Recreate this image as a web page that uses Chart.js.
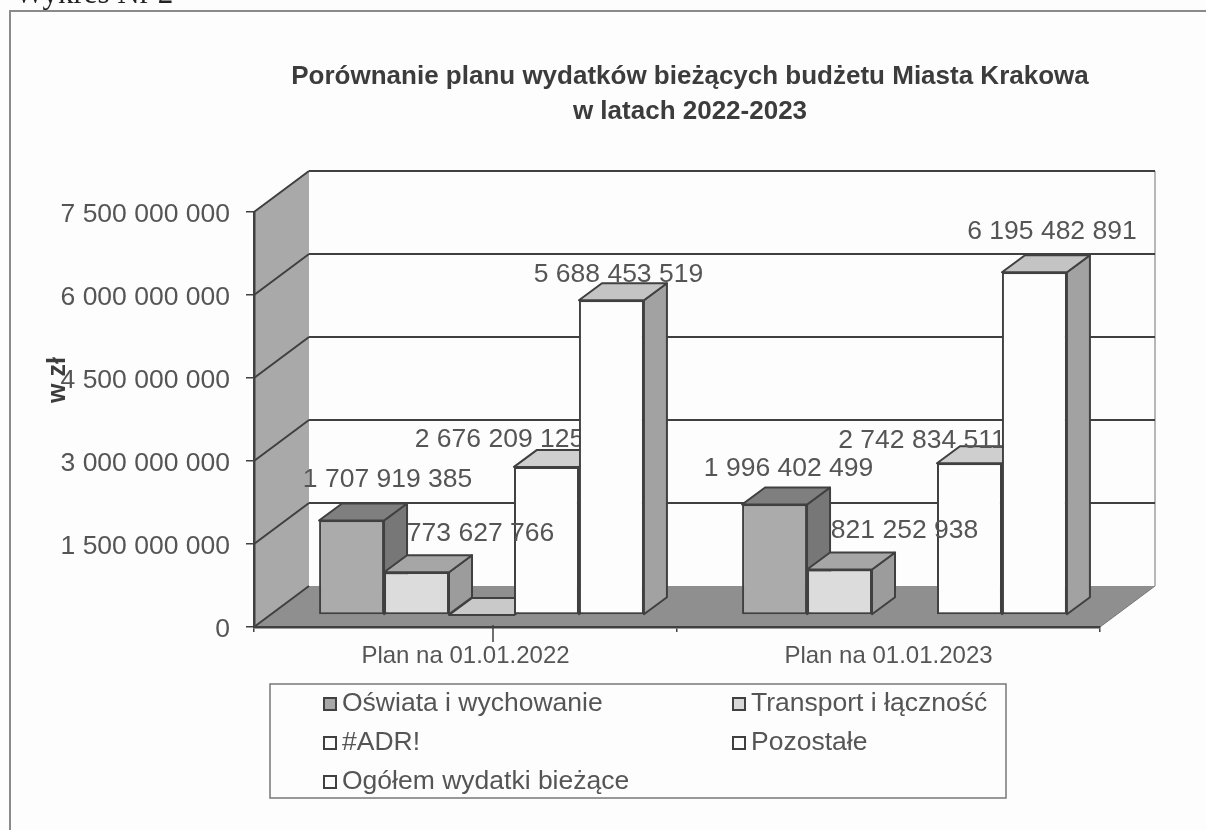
<!DOCTYPE html>
<html lang="pl">
<head>
<meta charset="utf-8">
<title>Wykres Nr 2</title>
<style>html,body{margin:0;padding:0;background:#fdfdfd}canvas{display:block}</style>
<script src="https://cdn.jsdelivr.net/npm/chart.js@4/dist/chart.umd.min.js"></script>
</head>
<body>
<canvas id="c" width="1206" height="830"></canvas>
<script>
const caption = 'Wykres Nr 2';
const titleLines = ['Porównanie planu wydatków bieżących budżetu Miasta Krakowa', 'w latach 2022-2023'];
const axisTitle = 'w zł';
const categories = ['Plan na 01.01.2022', 'Plan na 01.01.2023'];
const seriesNames = ['Oświata i wychowanie', 'Transport i łączność', '#ADR!', 'Pozostałe', 'Ogółem wydatki bieżące'];
const oswiata = [1707919385, 1996402499];
const transport = [773627766, 821252938];
const adr = [0, null];
const pozostale = [2676209125, 2742834511];
const ogolem = [5688453519, 6195482891];
const seriesValues = [oswiata, transport, adr, pozostale, ogolem];
const yMax = 7500000000;
const yStep = 1500000000;

/* presentation */
const FONT = '"Liberation Sans", Arial, sans-serif';
const INK = '#555555', LINE = '#404040';
const fronts = ['#ababab', '#dcdcdc', '#fdfdfd', '#fdfdfd', '#fdfdfd'];
const tops = ['#7f7f7f', '#a6a6a6', '#c9c9c9', '#cfcfcf', '#c4c4c4'];
const sides = ['#777777', '#9c9c9c', '#a6a6a6', '#a6a6a6', '#a2a2a2'];
const legendSwatch = ['#a8a8a8', '#d8d8d8', '#fdfdfd', '#fdfdfd', '#fdfdfd'];
const WALL = {dx: 55, dy: -41}, BAR = {dx: 16, dy: -12}, DEPTH = {dx: 23, dy: -17};
/* hand-placed value labels: offset from the top-centre of each bar's front face */
const labelShift = [
  [[36, -41], [14, -36]],
  [[64, -39], [65, -39]],
  null,
  [[-47, -27], [-47.5, -23]],
  [[7, -26], [17.5, -40]]
];
const LABEL_UNDER_NEXT = 3;

const fmt = v => String(v).replace(/\B(?=(\d{3})+$)/g, ' ');
function poly(ctx, pts, fill, stroke, w) {
  ctx.beginPath();
  pts.forEach((p, i) => i ? ctx.lineTo(p[0], p[1]) : ctx.moveTo(p[0], p[1]));
  ctx.closePath();
  if (fill) { ctx.fillStyle = fill; ctx.fill(); }
  if (stroke) { ctx.strokeStyle = stroke; ctx.lineWidth = w || 2; ctx.lineJoin = 'round'; ctx.stroke(); }
}
function seg(ctx, a, b, stroke, w) {
  ctx.beginPath(); ctx.moveTo(a[0], a[1]); ctx.lineTo(b[0], b[1]);
  ctx.strokeStyle = stroke; ctx.lineWidth = w; ctx.stroke();
}
function drawLabels(chart, i) {
  const shift = labelShift[i];
  if (!shift) return;
  const ctx = chart.ctx, meta = chart.getDatasetMeta(i);
  ctx.save();
  ctx.font = '26.5px ' + FONT; ctx.fillStyle = INK; ctx.textAlign = 'center'; ctx.textBaseline = 'middle';
  meta.data.forEach((el, k) => {
    const v = seriesValues[i][k];
    if (v) ctx.fillText(fmt(v), el.x + BAR.dx + shift[k][0], el.y + BAR.dy + shift[k][1]);
  });
  ctx.restore();
}

const scene = {
  id: 'scene',
  afterLayout(chart) {
    if (chart.titleBlock) { chart.titleBlock.left += 13; chart.titleBlock.right += 13; }
  },
  beforeDraw(chart) {
    const ctx = chart.ctx;
    ctx.save();
    ctx.fillStyle = '#fdfdfd'; ctx.fillRect(0, 0, chart.width, chart.height);
    ctx.strokeStyle = '#8a8a8a'; ctx.lineWidth = 2;
    ctx.strokeRect(10, 11, 1300, 1000);
    ctx.font = '31px "Liberation Serif", serif'; ctx.fillStyle = '#222';
    ctx.textAlign = 'left'; ctx.textBaseline = 'alphabetic';
    ctx.fillText(caption, 15, 3);
    ctx.restore();
  },
  beforeDatasetsDraw(chart) {
    const ctx = chart.ctx, {left, right, bottom} = chart.chartArea, y = chart.scales.y;
    const y0 = y.getPixelForValue(0), yTop = y.getPixelForValue(yMax);
    const bx = WALL.dx, by = WALL.dy;
    ctx.save();
    poly(ctx, [[left + bx, yTop + by], [right + bx, yTop + by], [right + bx, y0 + by], [left + bx, y0 + by]], '#fdfdfd');
    seg(ctx, [right + bx, yTop + by], [right + bx, y0 + by], '#a0a0a0', 1.5);
    poly(ctx, [[left, yTop], [left + bx, yTop + by], [left + bx, y0 + by], [left, y0]], '#a9a9a9');
    poly(ctx, [[left, y0], [left + bx, y0 + by], [right + bx, y0 + by], [right, y0]], '#8f8f8f');
    for (let v = yStep; v <= yMax; v += yStep) {
      const p = y.getPixelForValue(v);
      seg(ctx, [left, p], [left + bx, p + by], LINE, 2);
      seg(ctx, [left + bx, p + by], [right + bx, p + by], LINE, 2);
    }
    seg(ctx, [left, y0], [left + bx, y0 + by], LINE, 2);
    seg(ctx, [right, y0], [right + bx, y0 + by], '#777', 1);
    ctx.restore();

    /* bars are painted left to right so that each one overlaps the depth of its neighbour */
    seriesValues.forEach((values, i) => {
      const meta = chart.getDatasetMeta(i);
      ctx.save();
      meta.data.forEach((el, k) => {
        if (values[k] === null) return;
        const l = el.x - el.width / 2 + BAR.dx, r = el.x + el.width / 2 + BAR.dx;
        const t = el.y + BAR.dy, b = el.base + BAR.dy, d = DEPTH;
        poly(ctx, [[r, t], [r + d.dx, t + d.dy], [r + d.dx, b + d.dy], [r, b]], sides[i], LINE, 2);
        poly(ctx, [[l, t], [l + d.dx, t + d.dy], [r + d.dx, t + d.dy], [r, t]], tops[i], LINE, 2);
      });
      ctx.translate(BAR.dx, BAR.dy);
      meta.controller.draw();
      ctx.restore();
      if (i === LABEL_UNDER_NEXT) drawLabels(chart, i);
    });
    seriesValues.forEach((_, i) => { if (i !== LABEL_UNDER_NEXT) drawLabels(chart, i); });
    ctx.save();
    seg(ctx, [493, bottom - 2], [493, bottom + 15], LINE, 1.5);
    ctx.restore();
    return false;
  },
  afterDraw(chart) {
    const ctx = chart.ctx;
    ctx.save();
    /* axis title sits above the middle of the axis, overlapping the tick label */
    ctx.save();
    ctx.translate(58, 380); ctx.rotate(-Math.PI / 2);
    ctx.font = 'bold 25px ' + FONT; ctx.fillStyle = '#3c3c3c';
    ctx.textAlign = 'center'; ctx.textBaseline = 'middle';
    ctx.fillText(axisTitle, 0, 0);
    ctx.restore();
    ctx.strokeStyle = '#777'; ctx.lineWidth = 1.5;
    ctx.fillStyle = '#fdfdfd';
    ctx.fillRect(270, 684, 736, 114); ctx.strokeRect(270, 684, 736, 114);
    const cols = [324, 733], rows = [704, 743, 782];
    ctx.font = '26.5px ' + FONT; ctx.textBaseline = 'middle'; ctx.textAlign = 'left';
    seriesNames.forEach((name, i) => {
      const x = cols[i % 2], y = rows[Math.floor(i / 2)];
      ctx.fillStyle = legendSwatch[i]; ctx.fillRect(x, y - 6, 12, 12);
      ctx.strokeStyle = LINE; ctx.lineWidth = 2; ctx.strokeRect(x, y - 6, 12, 12);
      ctx.fillStyle = INK; ctx.fillText(name, x + 18, y);
    });
    ctx.restore();
  }
};

new Chart(document.getElementById('c'), {
  type: 'bar',
  data: {
    labels: categories,
    datasets: seriesNames.map((name, i) => ({
      label: name,
      data: seriesValues[i],
      backgroundColor: fronts[i],
      borderColor: LINE,
      borderWidth: 2,
      borderSkipped: false,
      clip: false
    }))
  },
  options: {
    responsive: false,
    animation: false,
    devicePixelRatio: 1,
    categoryPercentage: 0.768,
    barPercentage: 1,
    layout: {padding: {left: 44, right: 106, top: 0, bottom: 0}},
    plugins: {
      legend: {display: false},
      tooltip: {enabled: false},
      title: {
        display: true,
        fullSize: false,
        text: titleLines,
        color: '#3c3c3c',
        font: {family: FONT, size: 26, weight: 'bold', lineHeight: 35 / 26},
        padding: {top: 59.5, bottom: 82.5}
      }
    },
    scales: {
      x: {
        grid: {drawOnChartArea: false, drawTicks: true, tickLength: 5, color: LINE, lineWidth: 1.5},
        border: {display: true, color: LINE, width: 2.5, z: 1},
        ticks: {color: INK, font: {family: FONT, size: 24}, padding: 10, maxRotation: 0, autoSkip: false},
        afterFit(axis) { axis.height = 203; }
      },
      y: {
        min: 0,
        max: yMax,
        grid: {drawOnChartArea: false, drawTicks: true, tickLength: 8, color: LINE, lineWidth: 1.5},
        border: {display: true, color: LINE, width: 2.5, z: 1},
        ticks: {stepSize: yStep, color: INK, font: {family: FONT, size: 26.5}, padding: 16, labelOffset: 3, callback: v => fmt(v)},
        afterFit(axis) { axis.width = 210; }
      }
    }
  },
  plugins: [scene]
});
</script>
</body>
</html>
